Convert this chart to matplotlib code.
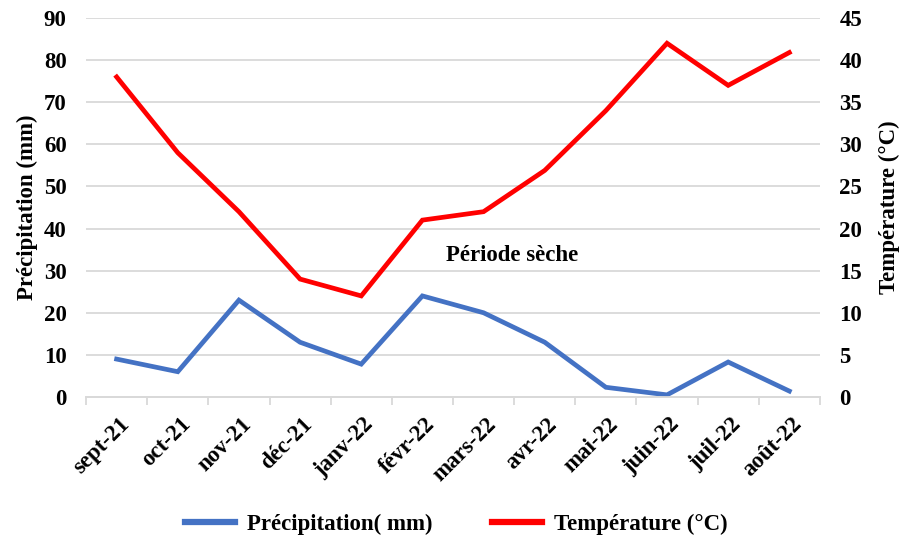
import numpy as np
import matplotlib
matplotlib.use("Agg")
import matplotlib.pyplot as plt
from matplotlib.lines import Line2D
from matplotlib.transforms import ScaledTranslation

plt.rcParams['font.family'] = ['Liberation Serif', 'DejaVu Serif']
plt.rcParams['font.weight'] = 'bold'

months = ['sept-21', 'oct-21', 'nov-21', 'déc-21', 'janv-22', 'févr-22',
          'mars-22', 'avr-22', 'mai-22', 'juin-22', 'juil-22', 'août-22']
precip = [9, 6, 23, 13, 7.8, 24, 20, 13, 2.3, 0.5, 8.3, 1.4]
temp = [38, 29, 22, 14, 12, 21, 22, 26.9, 34, 42, 37, 40.9]

blue = '#4472C4'
red = '#FF0000'
grid_col = '#D9D9D9'
fs = 16.5

fig = plt.figure(figsize=(9.01, 5.45), dpi=100)
ax = fig.add_axes([0.0955, 0.2716, 0.8145, 0.6954])
ax2 = ax.twinx()

x = np.arange(len(months))
ax.plot(x, precip, color=blue, lw=3.4, solid_joinstyle='miter', zorder=3)
ax2.plot(x, temp, color=red, lw=3.4, solid_joinstyle='miter', zorder=3)

ax.set_xlim(-0.5, len(months) - 0.5)
ax.set_ylim(0, 90)
ax2.set_ylim(0, 45)
ax.set_yticks(np.arange(0, 91, 10))
ax2.set_yticks(np.arange(0, 46, 5))
ax.yaxis.grid(True, color=grid_col, lw=1.3)
ax.set_axisbelow(True)

ax.set_xticks(x)
ax.set_xticklabels(months, rotation=45, ha='right', rotation_mode='anchor',
                   fontsize=fs)
ax.set_xticks(np.arange(-0.5, len(months)), minor=True)
ax.tick_params(axis='x', which='major', length=0, pad=12)
ax.tick_params(axis='x', which='minor', length=6, color=grid_col, width=1.3)
for lab in ax.get_xticklabels():
    lab.set_transform(lab.get_transform() +
                      ScaledTranslation(0.02, 0, fig.dpi_scale_trans))

ax.tick_params(axis='y', length=0, labelsize=fs, pad=14)
ax2.tick_params(axis='y', length=0, labelsize=fs, pad=14)

for a in (ax, ax2):
    for s in ('top', 'left', 'right'):
        a.spines[s].set_visible(False)
    a.spines['bottom'].set_color(grid_col)
    a.spines['bottom'].set_linewidth(1.3)

ax.set_ylabel('Précipitation (mm)', fontsize=fs, fontweight='bold', labelpad=4)
ax2.set_ylabel('Température (°C)', fontsize=fs, fontweight='bold', labelpad=12)

ax.text(6.46, 33.5, 'Période sèche', fontsize=fs, fontweight='bold',
        ha='center', va='center')

handles = [Line2D([], [], color=blue, lw=4.5),
           Line2D([], [], color=red, lw=4.5)]
fig.legend(handles, ['Précipitation( mm)', 'Température (°C)'],
           loc='center', bbox_to_anchor=(0.506, 0.037), ncol=2, frameon=False,
           handlelength=2.2, handletextpad=0.5, columnspacing=2.6,
           prop={'weight': 'bold', 'size': fs})

fig.savefig('out.png', dpi=100)
